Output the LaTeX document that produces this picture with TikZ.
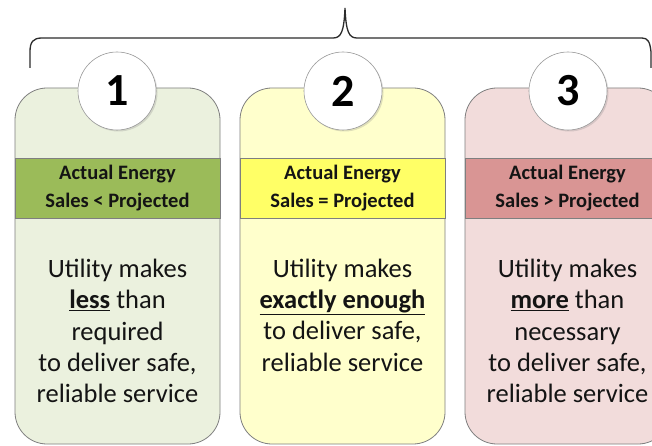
\documentclass[tikz,border=0pt]{standalone}
\usepackage{fontspec}
\setmainfont{Carlito}
\usetikzlibrary{shadows}
\definecolor{fillA}{HTML}{EBF1DE}
\definecolor{fillB}{HTML}{FFFFCC}
\definecolor{fillC}{HTML}{F2DCDB}
\definecolor{bandA}{HTML}{9BBB59}
\definecolor{bandB}{HTML}{FFFF66}
\definecolor{bandC}{HTML}{D99594}
\definecolor{edgegray}{HTML}{7F7F7F}
\definecolor{ink}{HTML}{141414}
\tikzset{
  card/.style={rectangle, rounded corners=32pt, draw=edgegray, line width=0.8pt,
    minimum width=205pt, minimum height=356pt, inner sep=0pt},
  band/.style={rectangle, draw=edgegray, line width=0.6pt, minimum width=205pt,
    minimum height=60pt, inner sep=0pt, align=center, text=ink,
    font=\fontsize{20.5}{27.5}\selectfont\bfseries},
  body/.style={align=center, text=ink, inner sep=0pt, font=\fontsize{26.5}{31.4}\selectfont},
  numcirc/.style={circle, draw=edgegray!80, line width=0.6pt, fill=white,
    minimum size=78pt, inner sep=0pt, text=black,
    font=\fontsize{46}{46}\selectfont\bfseries,
    drop shadow={opacity=0.25, shadow xshift=1.5pt, shadow yshift=-1.5pt}},
  bracestyle/.style={draw=ink!90, line width=1.3pt}
}
\begin{document}
\begin{tikzpicture}[x=1pt,y=-1pt]
\useasboundingbox (0,0) rectangle (652,446);
\clip (0,0) rectangle (652,446);
\fill[white] (0,0) rectangle (652,446);
% brace
\draw[bracestyle] (30,68) -- (30,52) .. controls (30,42) and (33,38) .. (42,38)
  -- (333,38) .. controls (341,38) and (344,32) .. (345,8)
  .. controls (346,32) and (349,38) .. (357,38)
  -- (642,38) .. controls (648,38) and (650,42) .. (651,52) -- (651,68);
% cards
\node[card, fill=fillA] (cA) at (117.5,266) {};
\node[card, fill=fillB] (cB) at (342.5,266) {};
\node[card, fill=fillC] (cC) at (567.5,266) {};
% bands
\node[band, fill=bandA] (bA) at (117.5,188) {Actual Energy\\Sales {<} Projected};
\node[band, fill=bandB] (bB) at (342.5,188) {Actual Energy\\Sales = Projected};
\node[band, fill=bandC] (bC) at (567.5,188) {Actual Energy\\Sales {>} Projected};
% body
\node[body] (tA) at (117.5,331) {Utility makes\\\underline{\textbf{less}} than\\required\\to deliver safe,\\reliable service};
\node[body] (tB) at (342.5,315) {Utility makes\\\underline{\textbf{exactly enough}}\\to deliver safe,\\reliable service};
\node[body] (tC) at (567.5,331) {Utility makes\\\underline{\textbf{more}} than\\necessary\\to deliver safe,\\reliable service};
% number circles
\node[numcirc] (nA) at (117,91) {1};
\node[numcirc] (nB) at (343,91) {2};
\node[numcirc] (nC) at (568,91) {3};
\end{tikzpicture}
\end{document}
